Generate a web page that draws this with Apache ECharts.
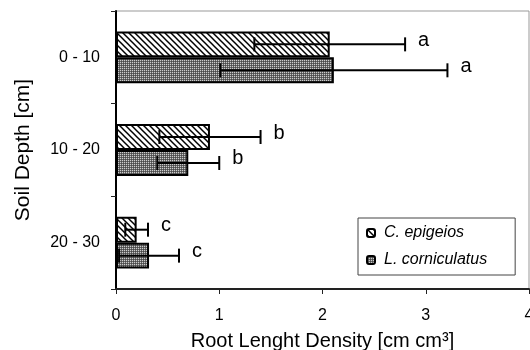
<!DOCTYPE html>
<html>
<head>
<meta charset="utf-8">
<script src="https://cdn.jsdelivr.net/npm/echarts@6/dist/echarts.min.js"></script>
<style>
  html, body { margin: 0; padding: 0; background: #fff; }
  #chart { width: 530px; height: 350px; }
</style>
</head>
<body>
<div id="chart"></div>
<script>
const depths = ['0 - 10', '10 - 20', '20 - 30'];
const seriesNames = ['C. epigeios', 'L. corniculatus'];
const epiMean = [2.07, 0.91, 0.20];
const epiErr = [0.73, 0.49, 0.11];
const epiLetters = ['a', 'b', 'c'];
const cornMean = [2.11, 0.70, 0.32];
const cornErr = [1.10, 0.30, 0.29];
const cornLetters = ['a', 'b', 'c'];
const xTicks = [0, 1, 2, 3, 4];

const FONT = '"Liberation Sans", Arial, sans-serif';

// diagonal hatch for C. epigeios
function stripePattern() {
  const c = document.createElement('canvas');
  c.width = 6;
  c.height = 6;
  const g = c.getContext('2d');
  g.fillStyle = '#fff';
  g.fillRect(0, 0, 6, 6);
  g.strokeStyle = '#000';
  g.lineWidth = 1.5;
  [-6, 0, 6].forEach((k) => {
    g.beginPath();
    g.moveTo(-1, -1 + k);
    g.lineTo(7, 7 + k);
    g.stroke();
  });
  return c;
}

// fine gray dots for L. corniculatus
function dotPattern() {
  const c = document.createElement('canvas');
  c.width = 2;
  c.height = 2;
  const g = c.getContext('2d');
  const px = [['#cccccc', '#666666'], ['#666666', '#4a4a4a']];
  for (let y = 0; y < 2; y++) {
    for (let x = 0; x < 2; x++) {
      g.fillStyle = px[y][x];
      g.fillRect(x, y, 1, 1);
    }
  }
  return c;
}

const chart = echarts.init(document.getElementById('chart'), null, { renderer: 'canvas' });

const CAT_GAP = 0.44;

function errorSeries(name, means, errs, letters, side) {
  return {
    name: name + ' err',
    type: 'custom',
    z: 5,
    encode: { x: [1, 2], y: 0 },
    data: means.map((m, i) => [i, m - errs[i], m + errs[i]]),
    renderItem: (params, api) => {
      const cat = api.value(0);
      const lo = api.coord([api.value(1), cat]);
      const hi = api.coord([api.value(2), cat]);
      const band = api.size([0, 1])[1];
      const off = side * band * (1 - CAT_GAP) / 4;
      const y = lo[1] + off;
      const cap = 7;
      const st = { stroke: '#000', lineWidth: 2 };
      return {
        type: 'group',
        children: [
          { type: 'line', shape: { x1: lo[0], y1: y, x2: hi[0], y2: y }, style: st },
          { type: 'line', shape: { x1: lo[0], y1: y - cap, x2: lo[0], y2: y + cap }, style: st },
          { type: 'line', shape: { x1: hi[0], y1: y - cap, x2: hi[0], y2: y + cap }, style: st },
          {
            type: 'text',
            style: {
              text: letters[params.dataIndex],
              x: hi[0] + 13,
              y: y - 4,
              verticalAlign: 'middle',
              align: 'left',
              font: '20px ' + FONT,
              fill: '#000'
            }
          }
        ]
      };
    }
  };
}

const option = {
  backgroundColor: '#fff',
  animation: false,
  textStyle: { fontFamily: FONT },
  grid: {
    left: 116,
    right: 1,
    top: 11,
    bottom: 61,
    outerBoundsMode: 'none',
    containLabel: false,
    show: true,
    borderColor: '#999',
    borderWidth: 1
  },
  legend: {
    data: seriesNames,
    orient: 'vertical',
    left: 358,
    top: 218,
    itemWidth: 8,
    itemHeight: 8,
    itemGap: 11,
    padding: [7, 28, 7, 8],
    borderColor: '#444',
    borderWidth: 1,
    backgroundColor: '#fff',
    textStyle: { fontSize: 16, fontStyle: 'italic', color: '#000', fontFamily: FONT, padding: [0, 0, 0, 4] }
  },
  xAxis: {
    type: 'value',
    min: xTicks[0],
    max: xTicks[xTicks.length - 1],
    interval: 1,
    name: 'Root Lenght Density [cm cm³]',
    nameLocation: 'middle',
    nameGap: 42,
    nameTextStyle: { fontSize: 20, color: '#000', fontFamily: FONT },
    axisLine: { show: true, lineStyle: { color: '#222', width: 2 } },
    axisTick: { show: true, length: 5, lineStyle: { color: '#222', width: 1 } },
    axisLabel: { fontSize: 16, color: '#000', margin: 19, fontFamily: FONT },
    splitLine: { show: false }
  },
  yAxis: {
    type: 'category',
    data: depths,
    inverse: true,
    name: 'Soil Depth [cm]',
    nameLocation: 'middle',
    nameGap: 82,
    nameTextStyle: { fontSize: 21, color: '#000', fontFamily: FONT },
    axisLine: { show: true, lineStyle: { color: '#000', width: 2 } },
    axisTick: { show: true, length: 5, lineStyle: { color: '#222', width: 1 } },
    axisLabel: { fontSize: 16, color: '#000', margin: 16, fontFamily: FONT },
    splitLine: { show: false }
  },
  series: [
    {
      name: seriesNames[0],
      type: 'bar',
      data: epiMean,
      barGap: '0%',
      barCategoryGap: CAT_GAP * 100 + '%',
      itemStyle: {
        color: { image: stripePattern(), repeat: 'repeat' },
        borderColor: '#000',
        borderWidth: 2
      }
    },
    {
      name: seriesNames[1],
      type: 'bar',
      data: cornMean,
      barGap: '0%',
      barCategoryGap: CAT_GAP * 100 + '%',
      itemStyle: {
        color: { image: dotPattern(), repeat: 'repeat' },
        borderColor: '#000',
        borderWidth: 2
      }
    },
    errorSeries(seriesNames[0], epiMean, epiErr, epiLetters, -1),
    errorSeries(seriesNames[1], cornMean, cornErr, cornLetters, 1)
  ]
};

chart.setOption(option);
</script>
</body>
</html>
